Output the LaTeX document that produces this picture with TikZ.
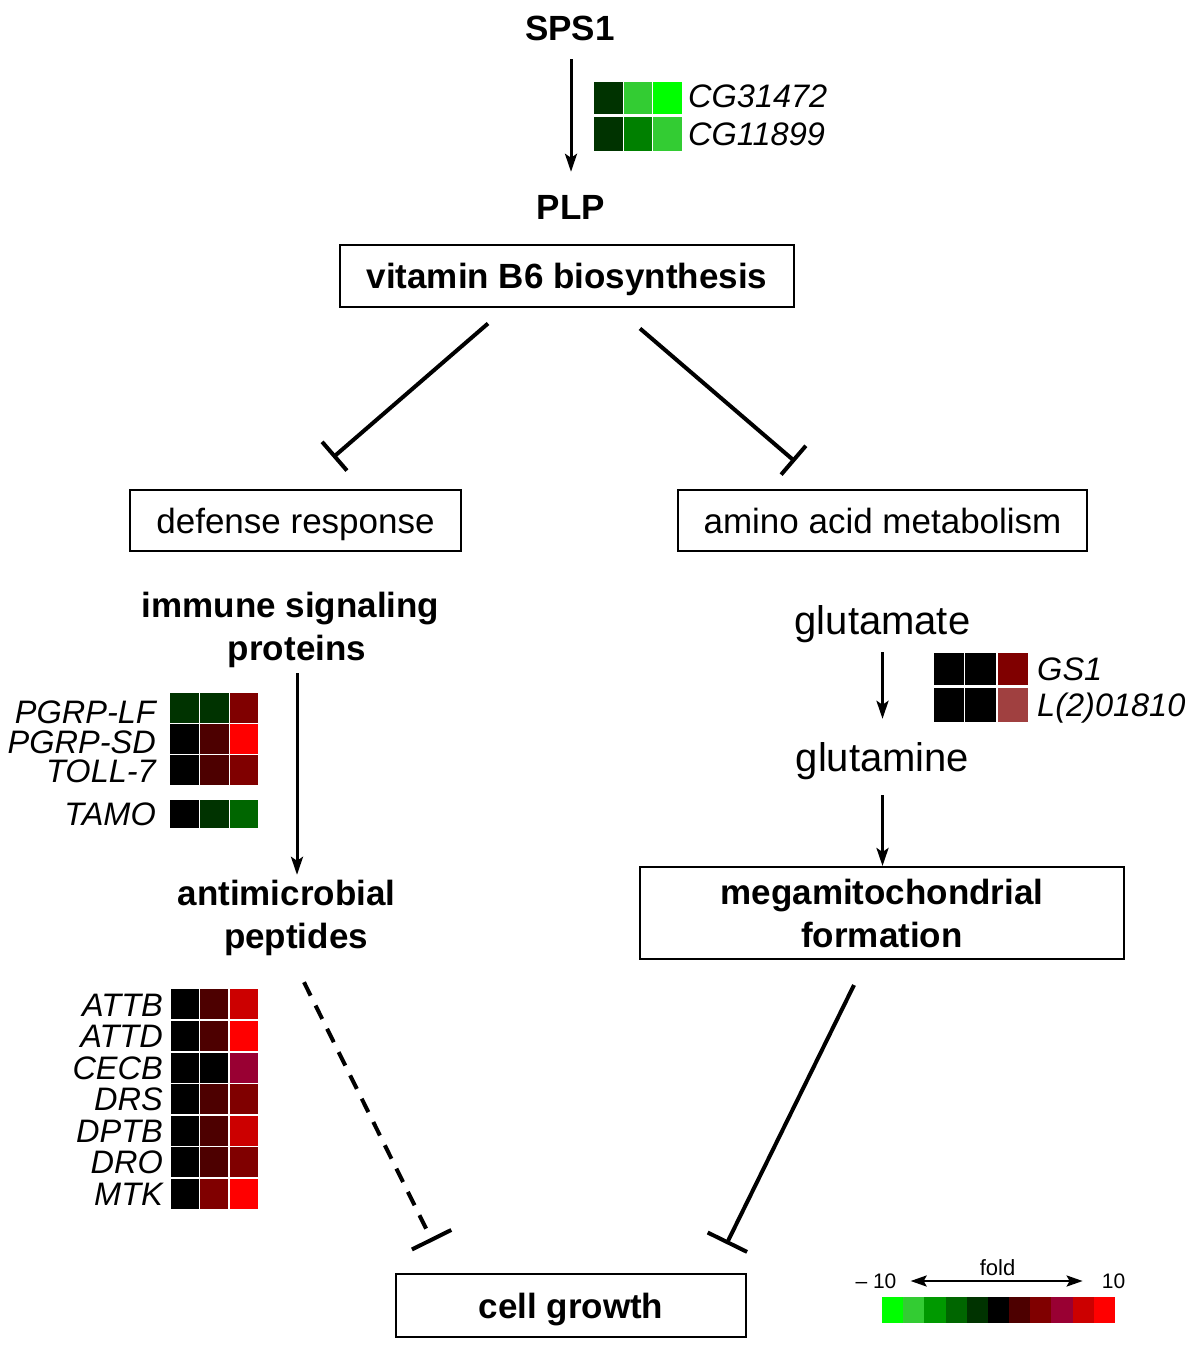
\documentclass[tikz,border=0pt]{standalone}
\usepackage{fontspec}
\setmainfont{Liberation Sans}
\usetikzlibrary{arrows.meta,calc}
\definecolor{gA}{HTML}{00FF00}
\definecolor{gB}{HTML}{33CC33}
\definecolor{gC}{HTML}{009900}
\definecolor{gM}{HTML}{008000}
\definecolor{gD}{HTML}{006600}
\definecolor{gE}{HTML}{003300}
\definecolor{kk}{HTML}{000000}
\definecolor{rA}{HTML}{4D0000}
\definecolor{rB}{HTML}{800000}
\definecolor{rC}{HTML}{990033}
\definecolor{rD}{HTML}{CC0000}
\definecolor{rE}{HTML}{FF0000}
\definecolor{rL}{HTML}{A04040}
\newcommand{\hc}[5]{\fill[#5] (#1,#2) rectangle ++(#3,#4);}
\begin{document}
\begin{tikzpicture}[x=1pt,y=-1pt,
  b35/.style={font=\fontsize{35}{43}\selectfont\bfseries, inner sep=0pt, text height=25pt, text depth=0pt},
  n35/.style={font=\fontsize{35}{43}\selectfont, inner sep=0pt, text height=25pt, text depth=0pt},
  n40/.style={font=\fontsize{40}{48}\selectfont, inner sep=0pt, text height=28.6pt, text depth=0pt},
  it33/.style={font=\fontsize{32.5}{40}\selectfont\itshape, inner sep=0pt, text height=23pt, text depth=0pt},
  f21/.style={font=\fontsize{21}{25}\selectfont, inner sep=0pt, text height=15pt, text depth=0pt},
  f22/.style={font=\fontsize{22}{26}\selectfont, inner sep=0pt, text height=15.8pt, text depth=0pt},
  box/.style={draw, line width=2pt, inner sep=0pt},
  arr/.style={line width=3pt, -{Stealth[length=18pt,width=12pt,inset=4pt]}},
  inhA/.style={line width=4pt, -{Bar[width=38pt]}},
  inhB/.style={line width=4pt, -{Bar[width=44pt]}},
]
\useasboundingbox (0,0) rectangle (1200,1356);

% ---- top part
\node[b35] (sps1) at (570,28.5) {SPS1};
\node[b35] (plp) at (571,207) {PLP};
\draw[arr, shorten <=18pt, shorten >=22.5pt] (sps1.south -| plp.north) -- (plp.north);

\hc{594}{82}{28.5}{32.5}{gE}
\hc{623.5}{82}{28.5}{32.5}{gB}
\hc{653}{82}{29}{32.5}{gA}
\hc{594}{117}{28.5}{34}{gE}
\hc{623.5}{117}{28.5}{34}{gM}
\hc{653}{117}{29}{34}{gB}
\node[it33, anchor=west] (cg1) at (688,96) {CG31472};
\node[it33, anchor=west] (cg2) at (688,134) {CG11899};

\node[box, b35, minimum width=454pt, minimum height=61pt] (vit) at (567,276) {vitamin B6 biosynthesis};

\node[box, n35, minimum width=331pt, minimum height=61pt] (def) at (295.5,520.5) {defense response};
\node[box, n35, minimum width=409pt, minimum height=61pt] (amino) at (882.5,520.5) {amino acid metabolism};

\draw[inhA] ($(vit.south)+(-79,16)$) -- ($(def.north)+(37.5,-31.5)$);
\draw[inhA] ($(vit.south)+(73,21)$) -- ($(amino.north)+(-87.5,-27.5)$);

% ---- left branch
\node[b35] (imm1) at (290.5,605) {immune signaling};
\node[b35] (imm2) at (297,648) {proteins};
\node[b35] (amp1) at (286.5,893) {antimicrobial};
\node[b35] (amp2) at (296,936) {peptides};
\draw[arr, shorten <=12.5pt, shorten >=5.5pt] (imm2.south) -- (imm2.south |- amp1.north);

% PGRP heatmap
\hc{170}{692.5}{29}{30.5}{gE}
\hc{200}{692.5}{28.5}{30.5}{gE}
\hc{229.5}{692.5}{28.5}{30.5}{rB}
\hc{170}{724}{29}{29.5}{kk}
\hc{200}{724}{28.5}{29.5}{rA}
\hc{229.5}{724}{28.5}{29.5}{rE}
\hc{170}{755}{29}{29.5}{kk}
\hc{200}{755}{28.5}{29.5}{rA}
\hc{229.5}{755}{28.5}{29.5}{rB}
\hc{170}{799.5}{29}{28}{kk}
\hc{200}{799.5}{28.5}{28}{gE}
\hc{229.5}{799.5}{28.5}{28}{gD}
\node[it33, anchor=east] (pgrplf) at (156,712) {PGRP-LF};
\node[it33, anchor=east] (pgrpsd) at (156,741.5) {PGRP-SD};
\node[it33, anchor=east] (toll7) at (156,771) {TOLL-7};
\node[it33, anchor=east] (tamo) at (156,813.5) {TAMO};

% AMP heatmap
\hc{171}{989}{27.5}{30}{kk}   \hc{200}{989}{28}{30}{rA}    \hc{230}{989}{27.5}{30}{rD}
\hc{171}{1021}{27.5}{30}{kk}  \hc{200}{1021}{28}{30}{rA}   \hc{230}{1021}{27.5}{30}{rE}
\hc{171}{1052.5}{27.5}{30}{kk}\hc{200}{1052.5}{28}{30}{kk} \hc{230}{1052.5}{27.5}{30}{rC}
\hc{171}{1084}{27.5}{30}{kk}  \hc{200}{1084}{28}{30}{rA}   \hc{230}{1084}{27.5}{30}{rB}
\hc{171}{1115.5}{27.5}{30}{kk}\hc{200}{1115.5}{28}{30}{rA} \hc{230}{1115.5}{27.5}{30}{rD}
\hc{171}{1147}{27.5}{30}{kk}  \hc{200}{1147}{28}{30}{rA}   \hc{230}{1147}{27.5}{30}{rB}
\hc{171}{1179}{27.5}{30}{kk}  \hc{200}{1179}{28}{30}{rB}   \hc{230}{1179}{27.5}{30}{rE}
\node[it33, anchor=east] (attb) at (163,1005) {ATTB};
\node[it33, anchor=east] (attd) at (163,1036) {ATTD};
\node[it33, anchor=east] (cecb) at (163,1067.5) {CECB};
\node[it33, anchor=east] (drs) at (163,1099) {DRS};
\node[it33, anchor=east] (dptb) at (163,1130.5) {DPTB};
\node[it33, anchor=east] (dro) at (163,1162) {DRO};
\node[it33, anchor=east] (mtk) at (163,1194) {MTK};

% ---- right branch
\node[n40] (glu) at (882.5,620) {glutamate};
\node[n40] (gln) at (882.5,757) {glutamine};
\draw[arr, shorten <=17.7pt, shorten >=23.7pt] (glu.south) -- (gln.north);

\hc{934}{653}{29.5}{32}{kk}  \hc{965}{653}{31}{32}{kk}  \hc{997.5}{653}{30.5}{32}{rB}
\hc{934}{687.5}{29.5}{34}{kk}\hc{965}{687.5}{31}{34}{kk}\hc{997.5}{687.5}{30.5}{34}{rL}
\node[it33, anchor=west] (gs1) at (1037,669) {GS1};
\node[it33, anchor=west] (l2) at (1037,705) {L(2)01810};

\node[box, font=\fontsize{35}{43}\selectfont\bfseries, align=center, minimum width=484pt, minimum height=92pt] (mega) at (882,913) {megamitochondrial\\formation};
\draw[arr, shorten <=23.7pt] (gln.south) -- (gln.south |- mega.north);

% ---- bottom
\node[box, b35, minimum width=350pt, minimum height=63pt] (cg) at (571,1305.5) {cell growth};
\draw[inhB, dash pattern=on 15pt off 11pt] ($(amp2.south)+(8,33.5)$) -- ($(cg.north)+(-138.5,-31.5)$);
\draw[inhB] ($(mega.south)+(-28,25)$) -- ($(cg.north)+(155.5,-29)$);

% ---- legend
\foreach \c [count=\i from 0] in {gA,gB,gC,gD,gE,kk,rA,rB,rC,rD,rE}
  \fill[\c] (882+\i*21.18,1297) rectangle ++(21.18,26);
\node[f21] (lmin) at (876,1281) {– 10};
\node[f21] (lmax) at (1113.5,1281) {10};
\node[f22] (fold) at (997.5,1268) {fold};
\draw[line width=2.5pt, {Stealth[length=16pt,width=11pt,inset=3pt]}-{Stealth[length=16pt,width=11pt,inset=3pt]}, shorten <=14pt, shorten >=19pt] (lmin.east) -- (lmax.west);
\end{tikzpicture}
\end{document}
